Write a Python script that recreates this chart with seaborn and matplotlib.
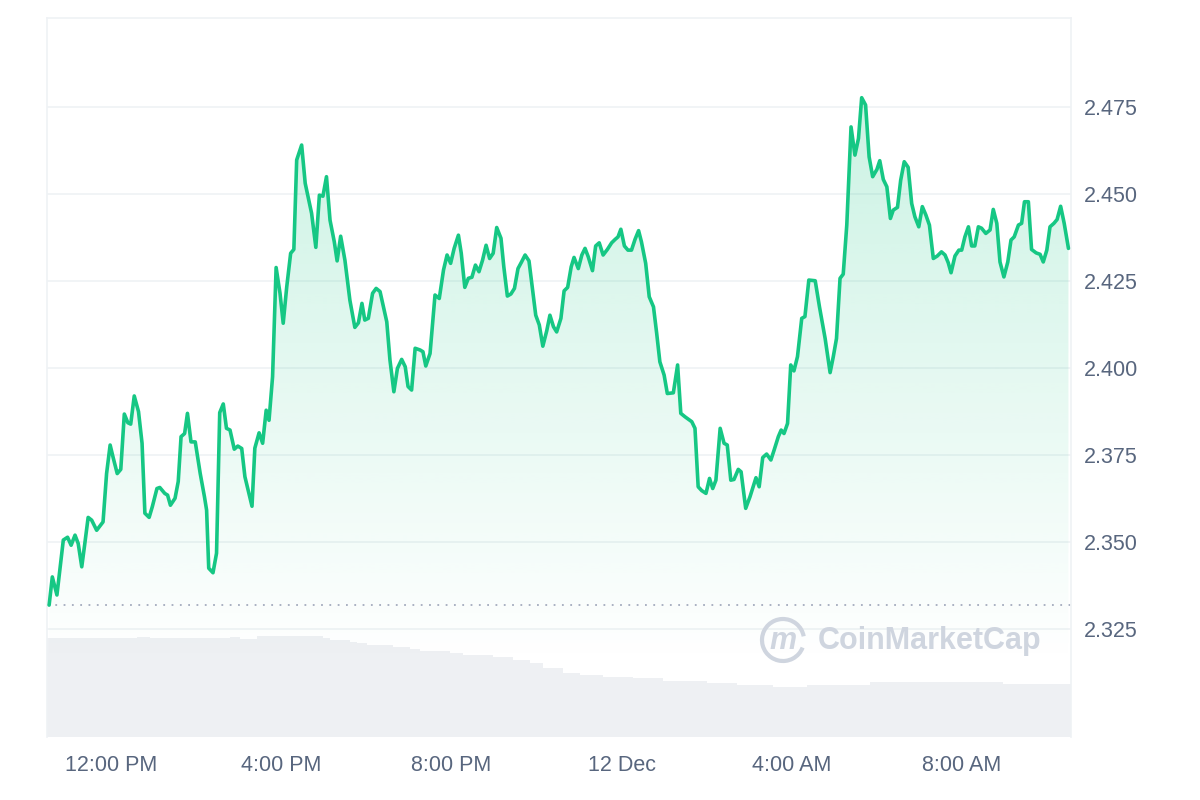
import numpy as np
import matplotlib
matplotlib.use("Agg")
import matplotlib.pyplot as plt
import seaborn as sns
from matplotlib.patches import Arc
from matplotlib.colors import to_rgb

# ---------------- data ----------------
# minutes since 10:30 AM, 11 Dec
minutes = [
    3, 7.5, 14, 23, 29, 34, 39.5, 44, 49, 53, 58, 63, 70, 79, 84, 89, 93.5, 99, 104, 109,
    114, 118, 123, 129, 134, 138, 144, 148.5, 155, 159, 166, 170, 174, 180.5, 185, 189, 194, 198, 203, 209,
    216, 222, 225, 228, 234, 239, 243.5, 248.5, 253, 258, 264, 269, 274.5, 279, 289, 293, 299, 304, 309, 313,
    318, 323, 328.5, 333, 338, 343.5, 348, 352, 359, 364, 373, 379, 384, 389, 394, 399, 405, 409, 414, 420,
    427, 434, 439, 444, 448, 453, 459, 464, 469.5, 479, 483.5, 489, 494, 500, 505, 509, 514, 519, 526, 530,
    534, 540, 547, 553, 559, 564, 569, 574, 580, 584, 589, 594, 599, 604, 609, 614, 619, 624, 629, 634,
    640, 644, 649, 654, 659, 664, 669, 674, 679.5, 684, 689, 694, 699, 704.5, 709, 714, 718.5, 724.5, 729, 734,
    739, 743, 749, 754, 758.5, 763, 769, 773.5, 778.5, 784, 790, 796, 801, 805, 809, 814, 819, 824, 829, 834,
    838, 844, 849, 855, 859.5, 864, 870, 874.5, 883, 889, 893.5, 899.5, 909, 913.5, 918, 923, 929, 934, 938.5, 943,
    949, 954.5, 959, 964, 968.5, 974.5, 978.5, 985, 991, 999.5, 1004, 1009, 1014.5, 1020.5, 1025, 1031, 1035, 1039, 1044, 1048.5,
    1053, 1058, 1064, 1068.5, 1074, 1083, 1089, 1097, 1104, 1108.5, 1113, 1118, 1122.5, 1127.5, 1133.5, 1139, 1144, 1148.5, 1154, 1159,
    1164, 1170, 1174, 1179, 1184, 1189, 1193, 1199, 1203.5, 1208.5, 1214, 1219, 1223.5, 1229, 1234, 1239, 1244, 1249.5, 1255, 1261,
    1266, 1270.5, 1274.5, 1280, 1285.5, 1289.5, 1294, 1299, 1303.5, 1308, 1313, 1317.5, 1323.5, 1329.5, 1334, 1339, 1343.5, 1349, 1354.5, 1359,
    1363.5, 1369.5, 1374, 1378, 1383.5, 1388, 1394.5, 1400, 1404.5, 1409.5, 1414, 1419.5, 1424, 1429, 1434, 1440,
]
prices = [
    2.3319, 2.3400, 2.3348, 2.3506, 2.3514, 2.3491, 2.3520, 2.3496, 2.3429, 2.3491, 2.3571, 2.3563, 2.3534, 2.3558, 2.3697, 2.3779, 2.3741, 2.3697, 2.3709, 2.3868,
    2.3843, 2.3839, 2.3920, 2.3875, 2.3784, 2.3583, 2.3571, 2.3602, 2.3654, 2.3657, 2.3640, 2.3635, 2.3606, 2.3626, 2.3674, 2.3803, 2.3812, 2.3870, 2.3788, 2.3788,
    2.3697, 2.3630, 2.3592, 2.3425, 2.3412, 2.3468, 2.3872, 2.3897, 2.3827, 2.3822, 2.3767, 2.3776, 2.3769, 2.3688, 2.3603, 2.3770, 2.3814, 2.3784, 2.3879, 2.3850,
    2.3975, 2.4289, 2.4215, 2.4129, 2.4234, 2.4330, 2.4341, 2.4598, 2.4641, 2.4531, 2.4445, 2.4347, 2.4497, 2.4494, 2.4550, 2.4425, 2.4363, 2.4308, 2.4379, 2.4310,
    2.4195, 2.4117, 2.4130, 2.4186, 2.4138, 2.4143, 2.4215, 2.4229, 2.4220, 2.4133, 2.4023, 2.3932, 2.3999, 2.4025, 2.4004, 2.3947, 2.3937, 2.4057, 2.4052, 2.4047,
    2.4006, 2.4042, 2.4210, 2.4200, 2.4282, 2.4325, 2.4301, 2.4344, 2.4382, 2.4330, 2.4232, 2.4258, 2.4261, 2.4296, 2.4277, 2.4310, 2.4353, 2.4315, 2.4330, 2.4404,
    2.4373, 2.4291, 2.4207, 2.4213, 2.4229, 2.4286, 2.4305, 2.4325, 2.4308, 2.4234, 2.4152, 2.4124, 2.4063, 2.4107, 2.4152, 2.4119, 2.4104, 2.4143, 2.4222, 2.4232,
    2.4291, 2.4318, 2.4286, 2.4325, 2.4344, 2.4320, 2.4280, 2.4351, 2.4360, 2.4325, 2.4341, 2.4360, 2.4370, 2.4377, 2.4399, 2.4351, 2.4339, 2.4339, 2.4370, 2.4395,
    2.4363, 2.4301, 2.4205, 2.4176, 2.4100, 2.4018, 2.3980, 2.3927, 2.3929, 2.4009, 2.3870, 2.3860, 2.3846, 2.3827, 2.3659, 2.3648, 2.3640, 2.3683, 2.3654, 2.3678,
    2.3827, 2.3784, 2.3779, 2.3678, 2.3680, 2.3709, 2.3702, 2.3597, 2.3630, 2.3685, 2.3659, 2.3743, 2.3753, 2.3736, 2.3764, 2.3803, 2.3822, 2.3812, 2.3841, 2.4009,
    2.3992, 2.4033, 2.4143, 2.4148, 2.4253, 2.4251, 2.4176, 2.4085, 2.3987, 2.4033, 2.4085, 2.4258, 2.4270, 2.4411, 2.4693, 2.4612, 2.4660, 2.4777, 2.4756, 2.4607,
    2.4550, 2.4571, 2.4596, 2.4542, 2.4521, 2.4430, 2.4454, 2.4462, 2.4540, 2.4593, 2.4577, 2.4473, 2.4435, 2.4406, 2.4464, 2.4440, 2.4411, 2.4315, 2.4322, 2.4334,
    2.4325, 2.4303, 2.4274, 2.4322, 2.4339, 2.4339, 2.4377, 2.4406, 2.4351, 2.4351, 2.4406, 2.4402, 2.4387, 2.4397, 2.4456, 2.4416, 2.4305, 2.4262, 2.4305, 2.4368,
    2.4377, 2.4411, 2.4416, 2.4478, 2.4478, 2.4341, 2.4331, 2.4327, 2.4305, 2.4339, 2.4406, 2.4416, 2.4427, 2.4465, 2.4416, 2.4344,
]

# volume (relative units) as steps: edges in minutes since 10:30 AM
vol_edges = [0, 127, 145, 258, 272, 296, 389, 399, 427, 437, 451, 488, 512, 526, 568, 587,
             629, 657, 681, 699, 728, 751, 784, 826, 869, 931, 973, 1024, 1071, 1160, 1348, 1443.6]
vol_values = [0.987, 1.003, 0.99, 1.003, 0.98, 1.01, 0.99, 0.97, 0.953, 0.94, 0.92, 0.90, 0.88, 0.863, 0.843,
              0.82, 0.797, 0.77, 0.737, 0.69, 0.643, 0.62, 0.603, 0.587, 0.563, 0.543, 0.523, 0.503, 0.525, 0.55, 0.53]

x_ticks = [90, 330, 570, 810, 1050, 1290]
x_tick_labels = ["12:00 PM", "4:00 PM", "8:00 PM", "12 Dec", "4:00 AM", "8:00 AM"]
y_ticks = [2.325, 2.350, 2.375, 2.400, 2.425, 2.450, 2.475]
y_tick_labels = ["2.325", "2.350", "2.375", "2.400", "2.425", "2.450", "2.475"]

# ---------------- style ----------------
sns.set_theme(style="white")
plt.rcParams["font.family"] = ["Liberation Sans", "DejaVu Sans"]

GREEN = "#16c784"
GRID = "#eff2f5"
LABEL = "#58667e"
WM = "#cfd5df"

fig = plt.figure(figsize=(12, 8), dpi=100)
fig.patch.set_facecolor("white")
ax = fig.add_axes([47 / 1200, 63 / 800, 1024 / 1200, 719 / 800])
axv = ax.twinx()
axv.set_zorder(0)
ax.set_zorder(1)
ax.patch.set_visible(False)

XMAX = 1443.6
ax.set_xlim(0, XMAX)

# volume bars
edges = np.array(vol_edges)
axv.bar(edges[:-1], vol_values, width=np.diff(edges), align="edge",
        color="#eef0f3", linewidth=0)
axv.set_ylim(0, 7.19)
axv.set_yticks([])
for s in axv.spines.values():
    s.set_visible(False)

# gradient area under the price line
rgb = to_rgb(GREEN)
n = 256
img = np.zeros((n, 1, 4))
img[:, 0, :3] = rgb
img[:, 0, 3] = np.linspace(0.0, 0.225, n)
im = ax.imshow(img, extent=[0, XMAX, 2.315, 2.48], origin="lower", aspect="auto",
               interpolation="bilinear", zorder=1)
poly = ax.fill_between(minutes, prices, 2.2, facecolor="none", edgecolor="none")
im.set_clip_path(poly.get_paths()[0], transform=ax.transData)

# price line
sns.lineplot(x=minutes, y=prices, ax=ax, color=GREEN, linewidth=2.6, zorder=3)

# opening-price dotted reference
ax.axhline(prices[0], color="#a3abbd", linewidth=1.3, linestyle=(0, (1, 3.6)), zorder=2)

ax.set_xlim(0, XMAX)
ax.set_ylim(2.2940, 2.5006)

# grid / spines
ax.set_yticks(y_ticks)
ax.set_yticklabels(y_tick_labels)
ax.set_xticks(x_ticks)
ax.set_xticklabels(x_tick_labels)
ax.yaxis.tick_right()
ax.grid(axis="y", color=GRID, linewidth=1.2)
ax.grid(axis="x", visible=False)
ax.set_axisbelow(True)
for side in ["left", "top", "right"]:
    ax.spines[side].set_color(GRID)
    ax.spines[side].set_linewidth(1.2)
ax.spines["bottom"].set_visible(False)
ax.tick_params(axis="y", length=0, pad=9, labelsize=15.5, labelcolor=LABEL)
ax.tick_params(axis="x", length=0, pad=13, labelsize=15.5, labelcolor=LABEL)
ax.set_xlabel("")
ax.set_ylabel("")

# watermark
fig.text(818 / 1200, 1 - 641 / 800, "CoinMarketCap", fontsize=22, fontweight="bold",
         color=WM, va="center", ha="left")
fig.patches.append(Arc((783 / 1200, 1 - 640 / 800), 42 / 1200, 42 / 800, theta1=15, theta2=330,
                       transform=fig.transFigure, color=WM, linewidth=3))
fig.text(783 / 1200, 1 - 641 / 800, "m", fontsize=22, fontweight="bold", fontstyle="italic",
         color=WM, va="center", ha="center")

fig.savefig("out.png", dpi=100, facecolor="white")
